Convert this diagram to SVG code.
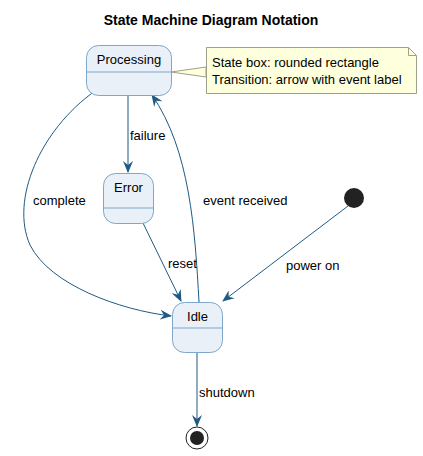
<svg xmlns="http://www.w3.org/2000/svg" width="423" height="456" viewBox="0 0 423 456">
<defs>
<style>
.st{fill:#EAF0F7;stroke:#7DA7CB;stroke-width:1}
.dv{stroke:#7DA7CB;stroke-width:1}
.t{font-family:"Liberation Sans",Arial,sans-serif;font-size:13px;fill:#000}
.c{fill:none;stroke:#1E5A84;stroke-width:1}
</style>
<marker id="ah" viewBox="0 0 12 10" refX="11" refY="5" markerWidth="12" markerHeight="10" markerUnits="userSpaceOnUse" orient="auto">
<path d="M0,0 L12,5 L0,10 L4,5 Z" fill="#1E5A84"/>
</marker>
</defs>
<rect width="423" height="456" fill="#fff"/>
<text x="211" y="25" text-anchor="middle" style="font-family:'Liberation Sans',Arial,sans-serif;font-size:14px;font-weight:bold">State Machine Diagram Notation</text>
<g id="connectors">
<path class="c" d="M128,95 L128,172" marker-end="url(#ah)"/>
<text class="t" x="130" y="140">failure</text>
<path class="c" d="M95,91 C40,130 10,200 30,245 C50,285 120,310 171,316" marker-end="url(#ah)"/>
<text class="t" x="33" y="205">complete</text>
<path class="c" d="M199,302 C195,230 190,150 152,95" marker-end="url(#ah)"/>
<text class="t" x="203" y="205">event received</text>
<path class="c" d="M143,223 L181,301" marker-end="url(#ah)"/>
<text class="t" x="168" y="268">reset</text>
<path class="c" d="M348,206 L223,301" marker-end="url(#ah)"/>
<text class="t" x="286" y="270">power on</text>
<path class="c" d="M197,352 L197,426" marker-end="url(#ah)"/>
<text class="t" x="199" y="397">shutdown</text>
<path d="M171,72 L206,67 L206,77 Z" fill="#FEFFDD" stroke="#A0A08A" stroke-width="1"/>
</g>
<g id="processing">
<rect class="st" x="86.5" y="45.5" width="85" height="50" rx="12"/>
<line class="dv" x1="86.5" y1="72" x2="171.5" y2="72"/>
<text class="t" x="129" y="64" text-anchor="middle">Processing</text>
</g>
<g id="error">
<rect class="st" x="103.5" y="173.5" width="50" height="50" rx="12"/>
<line class="dv" x1="103.5" y1="208" x2="153.5" y2="208"/>
<text class="t" x="128.5" y="192" text-anchor="middle">Error</text>
</g>
<g id="idle">
<rect class="st" x="172.5" y="302.5" width="50" height="50" rx="12"/>
<line class="dv" x1="172.5" y1="328" x2="222.5" y2="328"/>
<text class="t" x="197.5" y="321" text-anchor="middle">Idle</text>
</g>
<g id="initial">
<circle cx="354" cy="198" r="10" fill="#222"/>
</g>
<g id="final">
<circle cx="197" cy="438" r="11" fill="#fff" stroke="#222" stroke-width="1"/>
<circle cx="197" cy="438" r="7" fill="#222"/>
</g>
<g id="note">
<path d="M206.5,47.5 L408.5,47.5 L416.5,55.5 L416.5,93.5 L206.5,93.5 Z" fill="#FEFFDD" stroke="#A0A08A" stroke-width="1"/>
<path d="M408.5,47.5 L408.5,55.5 L416.5,55.5" fill="none" stroke="#A0A08A" stroke-width="1"/>
<text class="t" x="212" y="67">State box: rounded rectangle</text>
<text class="t" x="212" y="84">Transition: arrow with event label</text>
</g>
</svg>
